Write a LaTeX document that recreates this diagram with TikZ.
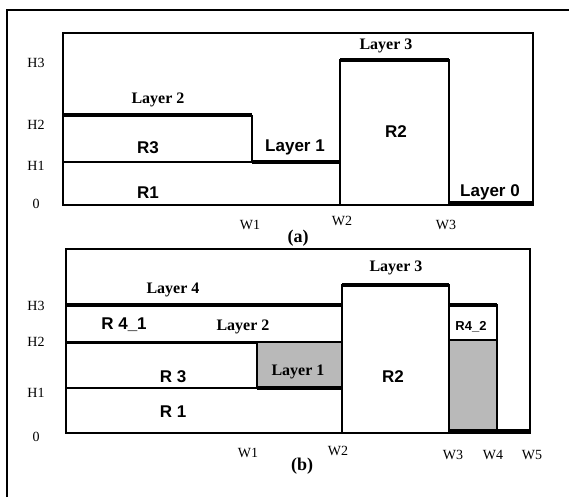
\documentclass[tikz,border=0pt]{standalone}
\usepackage{fontspec}
\setmainfont{Liberation Serif}
\setsansfont{Liberation Sans}
\usepackage{tikz}

\begin{document}
\begin{tikzpicture}[x=1pt,y=-1pt,line width=1.1pt,
    axis/.style={font=\fontsize{14}{14}\selectfont},
    lyr/.style={font=\fontsize{16}{16}\selectfont\bfseries},
    rgn/.style={font=\fontsize{17}{17}\selectfont\sffamily\bfseries},
    panel/.style={font=\fontsize{18}{18}\selectfont\bfseries},
    thk/.style={line width=4pt},
    shade/.style={fill=gray!55}]
  \useasboundingbox (0,0) rectangle (569,497);
  \draw[line width=1.4pt] (7,497) -- (7,10) -- (569,10);

  % (a)
  \draw (63,33) rectangle (533,205);
  \draw (63,162) -- (252,162) -- (252,115);
  \draw (340,205) -- (340,60) -- (449,60) -- (449,205);
  \draw[thk] (63,115) -- (252,115);
  \draw[thk] (252,162) -- (340,162);
  \draw[thk] (340,60) -- (449,60);
  \draw[thk] (449,203) -- (533,203);
  \node[axis] (a-h3) at (36,63) {H3};
  \node[axis] (a-h2) at (36,125) {H2};
  \node[axis] (a-h1) at (36,166) {H1};
  \node[axis] (a-h0) at (36,204) {0};
  \node[axis] (a-w1) at (250,225) {W1};
  \node[axis] (a-w2) at (342,221) {W2};
  \node[axis] (a-w3) at (446,225) {W3};
  \node[panel] (a-cap) at (298,238) {(a)};
  \node[lyr] (a-l2) at (158,100) {Layer 2};
  \node[rgn] (a-r3) at (148,148) {R3};
  \node[rgn] (a-r1) at (148,193) {R1};
  \node[rgn] (a-l1) at (295,147) {Layer 1};
  \node[lyr] (a-l3) at (386,46) {Layer 3};
  \node[rgn] (a-r2) at (396,132) {R2};
  \node[rgn] (a-l0) at (490,192) {Layer 0};

  % (b)
  \fill[shade] (257,342) rectangle (342,388);
  \fill[shade] (449,340) rectangle (497,430);
  \draw (66,249) rectangle (530,433);
  \draw (66,388) -- (257,388) -- (257,342) -- (342,342);
  \draw (66,342) -- (257,342);
  \draw (342,433) -- (342,285) -- (449,285) -- (449,433);
  \draw (449,340) -- (497,340) -- (497,305) -- (449,305);
  \draw (497,340) -- (497,430);
  \draw[thk] (66,305) -- (342,305);
  \draw[line width=3pt] (66,342) -- (257,342);
  \draw[thk] (257,388) -- (342,388);
  \draw[thk] (342,285) -- (449,285);
  \draw[thk] (449,305) -- (497,305);
  \draw[thk] (449,431) -- (530,431);
  \node[axis] (b-h3) at (36,306) {H3};
  \node[axis] (b-h2) at (36,342) {H2};
  \node[axis] (b-h1) at (36,393) {H1};
  \node[axis] (b-h0) at (36,437) {0};
  \node[axis] (b-w1) at (248,453) {W1};
  \node[axis] (b-w2) at (338,451) {W2};
  \node[axis] (b-w3) at (453,455) {W3};
  \node[axis] (b-w4) at (493,455) {W4};
  \node[axis] (b-w5) at (532,455) {W5};
  \node[panel] (b-cap) at (302,466) {(b)};
  \node[lyr] (b-l4) at (173,290) {Layer 4};
  \node[rgn] (b-r41) at (124,325) {R 4\_1};
  \node[lyr] (b-l2) at (243,327) {Layer 2};
  \node[rgn] (b-r3) at (173,377) {R 3};
  \node[rgn] (b-r1) at (173,412) {R 1};
  \node[lyr] (b-l1) at (298,372) {Layer 1};
  \node[rgn] (b-r2) at (393,377) {R2};
  \node[lyr] (b-l3) at (396,268) {Layer 3};
  \node[rgn,font=\fontsize{13}{13}\selectfont\sffamily\bfseries] (b-r42) at (471,327) {R4\_2};
\end{tikzpicture}
\end{document}
